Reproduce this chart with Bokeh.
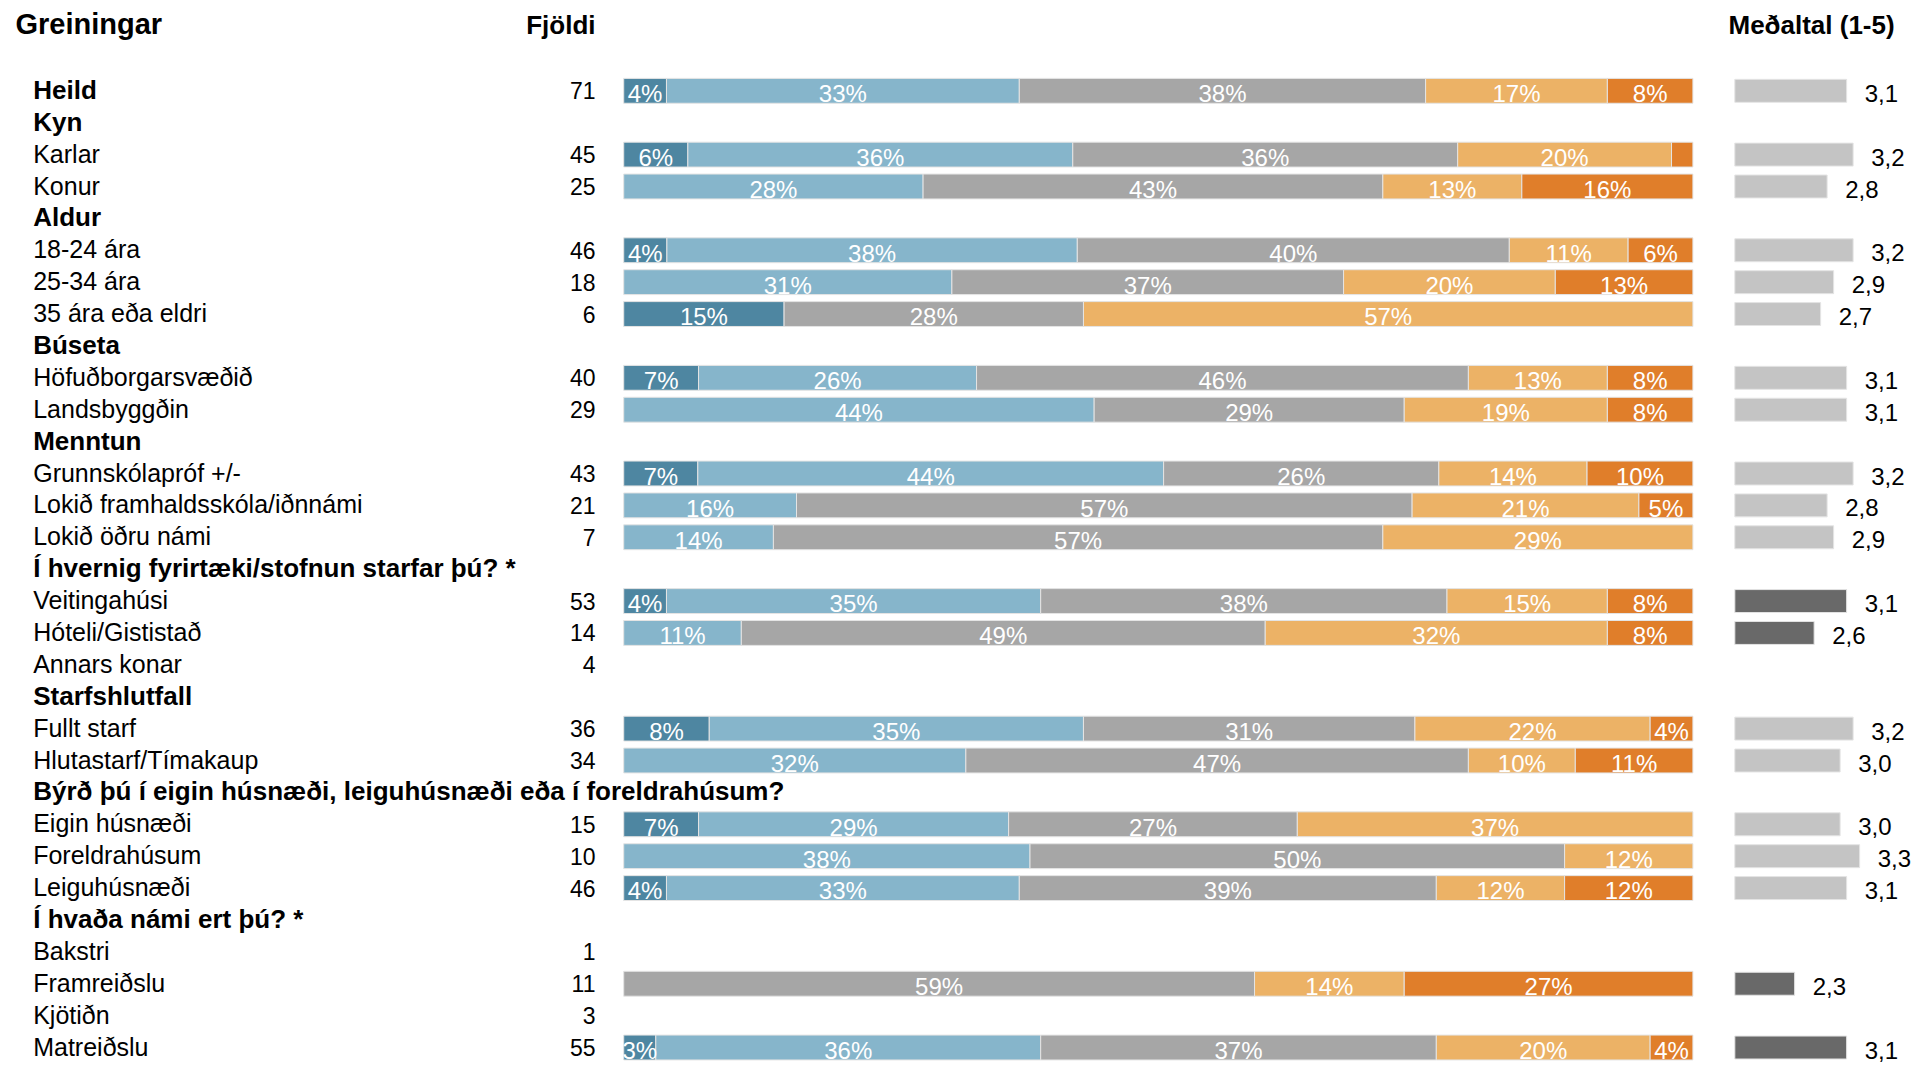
from bokeh.plotting import figure
from bokeh.models import Range1d, ColumnDataSource
from bokeh.core.properties import value
from bokeh.embed import file_html
from bokeh.resources import INLINE

# ---------------- data ----------------
row_labels = [
    "Heild", "Kyn", "Karlar", "Konur", "Aldur", "18-24 ára", "25-34 ára",
    "35 ára eða eldri", "Búseta", "Höfuðborgarsvæðið", "Landsbyggðin", "Menntun",
    "Grunnskólapróf +/-", "Lokið framhaldsskóla/iðnnámi", "Lokið öðru námi",
    "Í hvernig fyrirtæki/stofnun starfar þú? *", "Veitingahúsi", "Hóteli/Gististað",
    "Annars konar", "Starfshlutfall", "Fullt starf", "Hlutastarf/Tímakaup",
    "Býrð þú í eigin húsnæði, leiguhúsnæði eða í foreldrahúsum?", "Eigin húsnæði",
    "Foreldrahúsum", "Leiguhúsnæði", "Í hvaða námi ert þú? *", "Bakstri",
    "Framreiðslu", "Kjötiðn", "Matreiðslu",
]
row_bold = [
    True, True, False, False, True, False, False, False, True, False, False, True,
    False, False, False, True, False, False, False, True, False, False, True, False,
    False, False, True, False, False, False, False,
]
counts = [
    71, None, 45, 25, None, 46, 18, 6, None, 40, 29, None, 43, 21, 7, None, 53, 14,
    4, None, 36, 34, None, 15, 10, 46, None, 1, 11, 3, 55,
]
# share of answers per category (percent), None = no bar for this row
cat_1 = [4, None, 6, 0, None, 4, 0, 15, None, 7, 0, None, 7, 0, 0, None, 4, 0, None, None, 8, 0, None, 7, 0, 4, None, None, 0, None, 3]
cat_2 = [33, None, 36, 28, None, 38, 31, 0, None, 26, 44, None, 44, 16, 14, None, 35, 11, None, None, 35, 32, None, 29, 38, 33, None, None, 0, None, 36]
cat_3 = [38, None, 36, 43, None, 40, 37, 28, None, 46, 29, None, 26, 57, 57, None, 38, 49, None, None, 31, 47, None, 27, 50, 39, None, None, 59, None, 37]
cat_4 = [17, None, 20, 13, None, 11, 20, 57, None, 13, 19, None, 14, 21, 29, None, 15, 32, None, None, 22, 10, None, 37, 12, 12, None, None, 14, None, 20]
cat_5 = [8, None, 2, 16, None, 6, 13, 0, None, 8, 8, None, 10, 5, 0, None, 8, 8, None, None, 4, 11, None, 0, 0, 12, None, None, 27, None, 4]
means = [3.1, None, 3.2, 2.8, None, 3.2, 2.9, 2.7, None, 3.1, 3.1, None, 3.2, 2.8, 2.9, None, 3.1, 2.6, None, None, 3.2, 3.0, None, 3.0, 3.3, 3.1, None, None, 2.3, None, 3.1]
mean_dark = [False] * 16 + [True, True] + [False] * 10 + [True, False, True]
mean_axis_min = 1.38

cat_colors = ["#4E86A1", "#86B5CB", "#A6A6A6", "#ECB266", "#E07E2A"]
mean_light = "#C4C4C4"
mean_darkc = "#696969"

FONT = value("Liberation Sans")

# ---------------- figure ----------------
W, H = 1916, 1066
p = figure(width=W, height=H, output_backend="svg", toolbar_location=None,
           x_range=Range1d(0, W), y_range=Range1d(30.595, -2.832),
           min_border=0, outline_line_color=None, x_axis_location=None,
           y_axis_location=None, background_fill_color="white")
p.xgrid.visible = False
p.ygrid.visible = False
p.extra_x_ranges = {
    "pct": Range1d(-58.287, 120.912),
    "mean": Range1d(-25.302, 4.175),
}

# stacked 100% bars
series = [cat_1, cat_2, cat_3, cat_4, cat_5]
seg = {k: [] for k in ("y", "left", "right", "color", "mid", "txt")}
for i in range(len(row_labels)):
    if cat_1[i] is None:
        continue
    vals = [s[i] for s in series]
    tot = float(sum(vals))
    acc = 0.0
    for c, v in enumerate(vals):
        if v <= 0:
            continue
        l = acc / tot * 100
        acc += v
        r = acc / tot * 100
        seg["y"].append(i)
        seg["left"].append(l)
        seg["right"].append(r)
        seg["color"].append(cat_colors[c])
        seg["mid"].append((l + r) / 2)
        seg["txt"].append(f"{v}%" if v >= 3 else "")
seg_src = ColumnDataSource(seg)
p.hbar(y="y", left="left", right="right", height=0.78, fill_color="color",
       line_color="#E4E4E4", line_width=1, source=seg_src, x_range_name="pct")
seg_src_txt = ColumnDataSource(dict(x=seg["mid"], y=[v + 0.09 for v in seg["y"]], t=seg["txt"]))
p.text(x="x", y="y", text="t", source=seg_src_txt, x_range_name="pct",
       text_align="center", text_baseline="middle", text_color="white",
       text_font=FONT, text_font_size="24px")

# mean bars
mi = [i for i in range(len(row_labels)) if means[i] is not None]
mean_src = ColumnDataSource(dict(
    y=mi, right=[means[i] for i in mi], left=[mean_axis_min] * len(mi),
    color=[mean_darkc if mean_dark[i] else mean_light for i in mi],
    ty=[i + 0.08 for i in mi],
    t=[f"{means[i]:.1f}".replace(".", ",") for i in mi],
))
p.hbar(y="y", left="left", right="right", height=0.72, fill_color="color",
       line_color="#E4E4E4", line_width=1, source=mean_src, x_range_name="mean")
p.text(x="right", y="ty", text="t", source=mean_src, x_range_name="mean",
       x_offset=18, text_align="left", text_baseline="middle",
       text_color="black", text_font=FONT, text_font_size="24px")

# row labels
lab_src = ColumnDataSource(dict(
    x=[32.7] * len(row_labels), y=[i - 0.03 for i in range(len(row_labels))],
    t=row_labels, st=["bold" if b else "normal" for b in row_bold],
    fs=["26px" if b else "25px" for b in row_bold],
))
p.text(x="x", y="y", text="t", text_font_style="st", text_font_size="fs",
       source=lab_src, text_align="left", text_baseline="middle",
       text_color="black", text_font=FONT)

# counts
ci = [i for i in range(len(row_labels)) if counts[i] is not None]
cnt_src = ColumnDataSource(dict(
    x=[595] * len(ci), y=[float(i) for i in ci], t=[str(counts[i]) for i in ci]))
p.text(x="x", y="y", text="t", source=cnt_src, text_align="right",
       text_baseline="middle", text_color="black", text_font=FONT,
       text_font_size="23px")

# column headers
hdr_src = ColumnDataSource(dict(
    x=[15, 595, 1728], y=[-2.09, -2.06, -2.06],
    t=["Greiningar", "Fjöldi", "Meðaltal (1-5)"],
    a=["left", "right", "left"], fs=["29px", "26px", "26px"]))
p.text(x="x", y="y", text="t", text_align="a", text_font_size="fs",
       source=hdr_src, text_baseline="middle", text_color="black",
       text_font=FONT, text_font_style="bold")

open("out.html", "w").write(file_html(p, INLINE))
